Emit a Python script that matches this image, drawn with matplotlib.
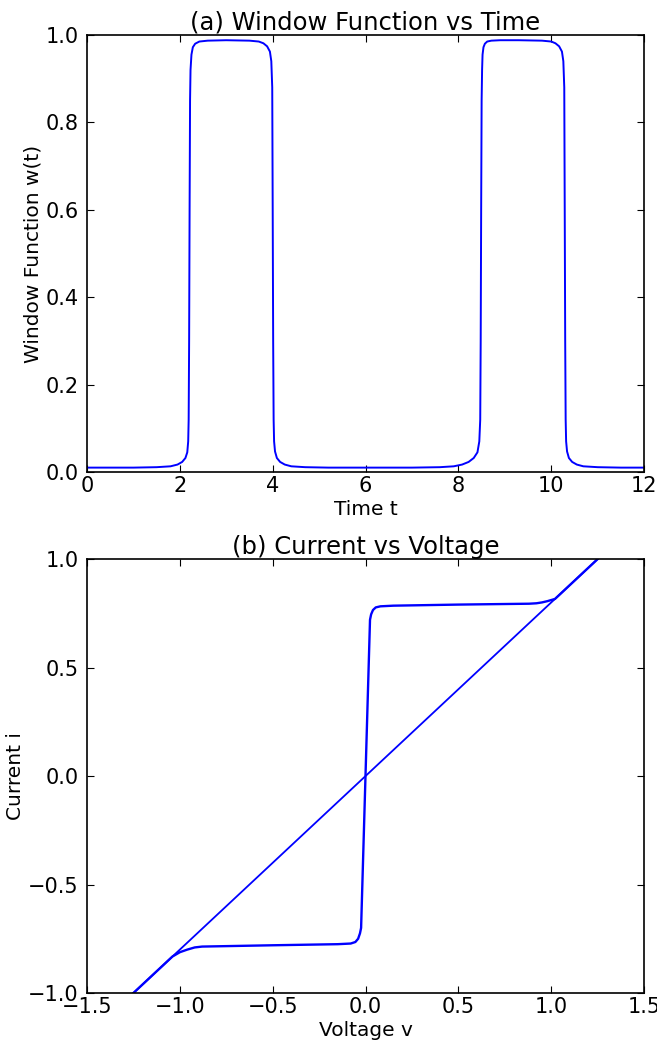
import matplotlib
matplotlib.use("Agg")
import matplotlib.pyplot as plt

# (a) window function
t_vals = [0.0, 1.0, 1.5, 1.8, 1.95, 2.05, 2.12, 2.16, 2.18, 2.19, 2.20, 2.21,
          2.22, 2.23, 2.25, 2.28, 2.33, 2.42, 2.6, 3.0, 3.5, 3.7, 3.8, 3.88,
          3.94, 3.97, 3.99, 4.0, 4.01, 4.02, 4.03, 4.05, 4.09, 4.16, 4.26, 4.4,
          4.7, 5.2, 6.0, 7.0, 7.6, 7.9, 8.08, 8.22, 8.33, 8.41, 8.45, 8.47,
          8.48, 8.49, 8.50, 8.51, 8.52, 8.54, 8.57, 8.62, 8.71, 8.9, 9.3, 9.8,
          10.0, 10.09, 10.17, 10.23, 10.26, 10.28, 10.29, 10.30, 10.31, 10.32,
          10.34, 10.38, 10.45, 10.55, 10.69, 11.0, 11.5, 12.0]
w_vals = [0.01, 0.01, 0.011, 0.013, 0.017, 0.023, 0.032, 0.045, 0.07, 0.12,
          0.3, 0.6, 0.85, 0.92, 0.955, 0.972, 0.98, 0.985, 0.987, 0.988,
          0.987, 0.985, 0.981, 0.974, 0.962, 0.94, 0.88, 0.6, 0.3, 0.12, 0.07,
          0.047, 0.032, 0.023, 0.017, 0.013, 0.011, 0.01, 0.01, 0.01, 0.011,
          0.013, 0.017, 0.023, 0.032, 0.045, 0.07, 0.12, 0.3, 0.6, 0.85, 0.92,
          0.955, 0.972, 0.98, 0.985, 0.987, 0.988, 0.988, 0.987, 0.985,
          0.981, 0.974, 0.962, 0.94, 0.88, 0.6, 0.3, 0.12, 0.07, 0.047, 0.032,
          0.023, 0.017, 0.013, 0.011, 0.01, 0.01]

# (b) current vs voltage: straight branch and switching loop
diag_v = [-1.25, 1.25]
diag_i = [-1.0, 1.0]

loop_v = [1.25, 1.02, 0.98, 0.95, 0.92, 0.88, 0.5, 0.15, 0.08, 0.055, 0.04,
          0.03, 0.024, -0.024, -0.03, -0.04, -0.055, -0.08, -0.15, -0.5,
          -0.88, -0.92, -0.96, -1.0, -1.04, -1.25]
loop_i = [1.0, 0.816, 0.806, 0.8, 0.796, 0.794, 0.79, 0.785, 0.782, 0.777,
          0.765, 0.745, 0.72, -0.70, -0.725, -0.75, -0.765, -0.772, -0.775,
          -0.78, -0.786, -0.79, -0.80, -0.812, -0.832, -1.0]

plt.rcParams['font.family'] = ['DejaVu Sans']
plt.rcParams['font.size'] = 15
plt.rcParams['xtick.direction'] = 'in'
plt.rcParams['ytick.direction'] = 'in'
plt.rcParams['xtick.top'] = True
plt.rcParams['ytick.right'] = True
plt.rcParams['xtick.major.size'] = 5
plt.rcParams['ytick.major.size'] = 5
plt.rcParams['xtick.major.pad'] = 3
plt.rcParams['ytick.major.pad'] = 6

fig = plt.figure(figsize=(6.57, 10.41), dpi=100)
ax1 = fig.add_axes([0.1324, 0.5466, 0.848, 0.4198])
ax2 = fig.add_axes([0.1324, 0.0461, 0.848, 0.4169])

ax1.plot(t_vals, w_vals, color='b', lw=1.4)
ax1.set_xlim(0, 12)
ax1.set_ylim(0, 1)
ax1.set_xticks([0, 2, 4, 6, 8, 10, 12])
ax1.set_yticks([0.0, 0.2, 0.4, 0.6, 0.8, 1.0])
ax1.set_yticklabels(['0.0', '0.2', '0.4', '0.6', '0.8', '1.0'])
ax1.set_xlabel('Time t', fontsize=14.5, labelpad=2.5)
ax1.set_ylabel('Window Function w(t)', fontsize=14.5, labelpad=2)
ax1.set_title('(a) Window Function vs Time', fontsize=17.5, pad=1)

ax2.plot(diag_v, diag_i, color='b', lw=1.3)
ax2.plot(loop_v, loop_i, color='b', lw=1.7)
ax2.set_xlim(-1.5, 1.5)
ax2.set_ylim(-1, 1)
ax2.set_xticks([-1.5, -1.0, -0.5, 0.0, 0.5, 1.0, 1.5])
ax2.set_yticks([-1.0, -0.5, 0.0, 0.5, 1.0])
ax2.set_xlabel('Voltage v', fontsize=14.5, labelpad=2.5)
ax2.set_ylabel('Current i', fontsize=14.5, labelpad=2)
ax2.set_title('(b) Current vs Voltage', fontsize=17.5, pad=1)

for ax in (ax1, ax2):
    for s in ax.spines.values():
        s.set_linewidth(1.2)

fig.savefig('out.png', dpi=100, facecolor='white')
